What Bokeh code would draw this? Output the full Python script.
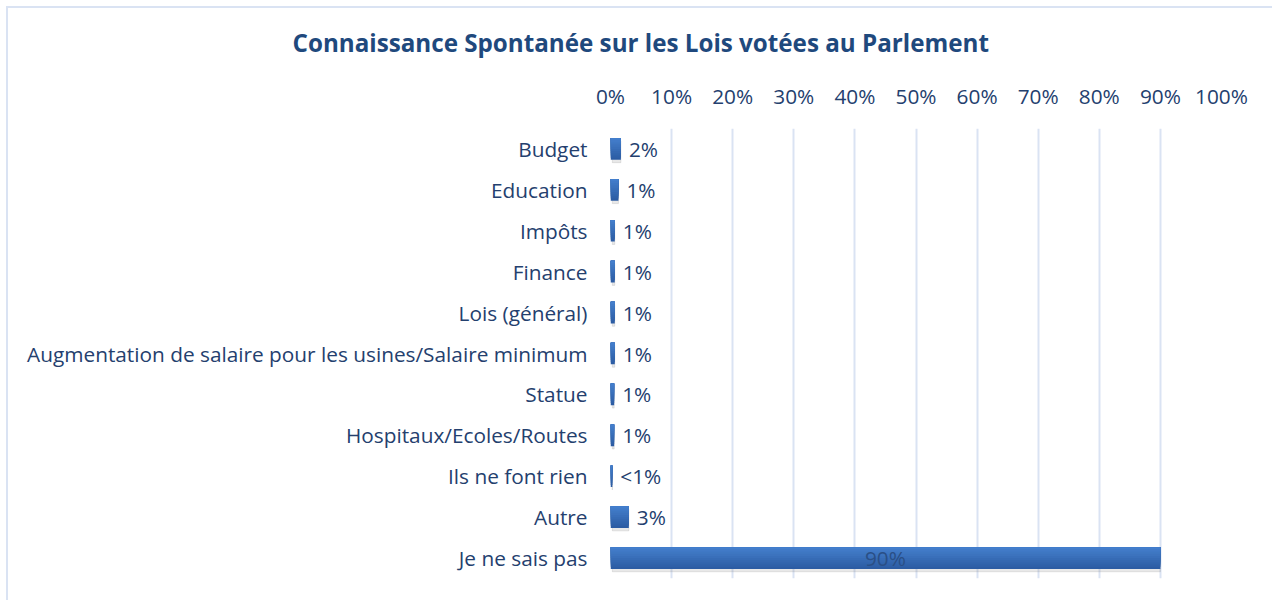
from bokeh.plotting import figure
from bokeh.models import ColumnDataSource, FactorRange, Range1d, Title, FixedTicker, CustomJSTickFormatter
from bokeh.transform import dodge
from bokeh.core.properties import value
from bokeh.embed import file_html
from bokeh.resources import INLINE

categories = ["Budget", "Education", "Impôts", "Finance", "Lois (général)",
              "Augmentation de salaire pour les usines/Salaire minimum",
              "Statue", "Hospitaux/Ecoles/Routes", "Ils ne font rien",
              "Autre", "Je ne sais pas"]
values = [1.7, 1.3, 0.7, 0.7, 0.7, 0.7, 0.6, 0.6, 0.3, 3.0, 90.0]
labels = ["2%", "1%", "1%", "1%", "1%", "1%", "1%", "1%", "<1%", "3%", "90%"]
ticks = [0, 10, 20, 30, 40, 50, 60, 70, 80, 90, 100]

FONT = "Open Sans"
TXT = "#24406e"
FS = "20.8px"

outside = [v < 50 for v in values]
src_out = ColumnDataSource(dict(cat=[c for c, o in zip(categories, outside) if o],
                                val=[v for v, o in zip(values, outside) if o],
                                lab=[l for l, o in zip(labels, outside) if o]))
src_in = ColumnDataSource(dict(cat=[c for c, o in zip(categories, outside) if not o],
                               mid=[v / 2 for v, o in zip(values, outside) if not o],
                               lab=[l for l, o in zip(labels, outside) if not o]))
src = ColumnDataSource(dict(cat=categories, val=values))

p = figure(width=1266, height=594, output_backend="svg", toolbar_location=None,
           y_range=FactorRange(factors=list(reversed(categories))),
           x_range=Range1d(0, 100), x_axis_location="above",
           min_border_left=602, min_border_right=53, min_border_top=120, min_border_bottom=24)
p.outline_line_color = None
p.background_fill_color = "white"
p.border_fill_color = "white"

p.title = Title(text="Connaissance Spontanée sur les Lois votées au Parlement",
                align="left", text_font=FONT, text_font_size="24.2px",
                text_font_style="bold", text_color="#1f497d", offset=-318,
                standoff=35, vertical_align="top")

# grid
p.ygrid.grid_line_color = None
p.xgrid.grid_line_color = "#dae3f3"
p.xgrid.grid_line_width = 2
p.xgrid.ticker = FixedTicker(ticks=ticks)

# axes
p.xaxis.ticker = FixedTicker(ticks=ticks)
p.xaxis.formatter = CustomJSTickFormatter(code="return tick + '%';")
for ax in (p.xaxis[0], p.yaxis[0]):
    ax.axis_line_color = None
    ax.major_tick_line_color = None
    ax.minor_tick_line_color = None
    ax.major_label_text_font = FONT
    ax.major_label_text_font_size = FS
    ax.major_label_text_color = TXT
p.xaxis.major_label_standoff = 13
p.yaxis.major_label_standoff = 17

H = 0.53
# shadow
p.hbar(y=dodge("cat", -0.07, range=p.y_range), left=0.3, right="val", height=H,
       source=src, color="#7f7f7f", alpha=0.18)
# gradient bars: nested bars sharing the top edge, lighter as they shrink
top_c = (0x46, 0x82, 0xd0)
bot_c = (0x2c, 0x5c, 0xa3)
n = 10
for i in range(n):
    t = 1 - i / n
    col = "#%02x%02x%02x" % tuple(int(round(a + (b - a) * t)) for a, b in zip(top_c, bot_c))
    h = H * (1 - i / n)
    p.hbar(y=dodge("cat", H / 2 - h / 2, range=p.y_range), left=0, right="val",
           height=h, source=src, color=col, line_color=None)

p.text(x="val", y="cat", text="lab", source=src_out, x_offset=8,
       text_baseline="middle", text_align="left", text_font=value(FONT),
       text_font_size=FS, text_color=TXT)
p.text(x="mid", y="cat", text="lab", source=src_in,
       text_baseline="middle", text_align="center", text_font=value(FONT),
       text_font_size=FS, text_color="#2a4f86")

p.styles = {"margin-left": "6px", "margin-top": "6px",
            "border-left": "2px solid #dae3f3", "border-top": "2px solid #dae3f3"}

open("out.html", "w").write(file_html(p, INLINE))
